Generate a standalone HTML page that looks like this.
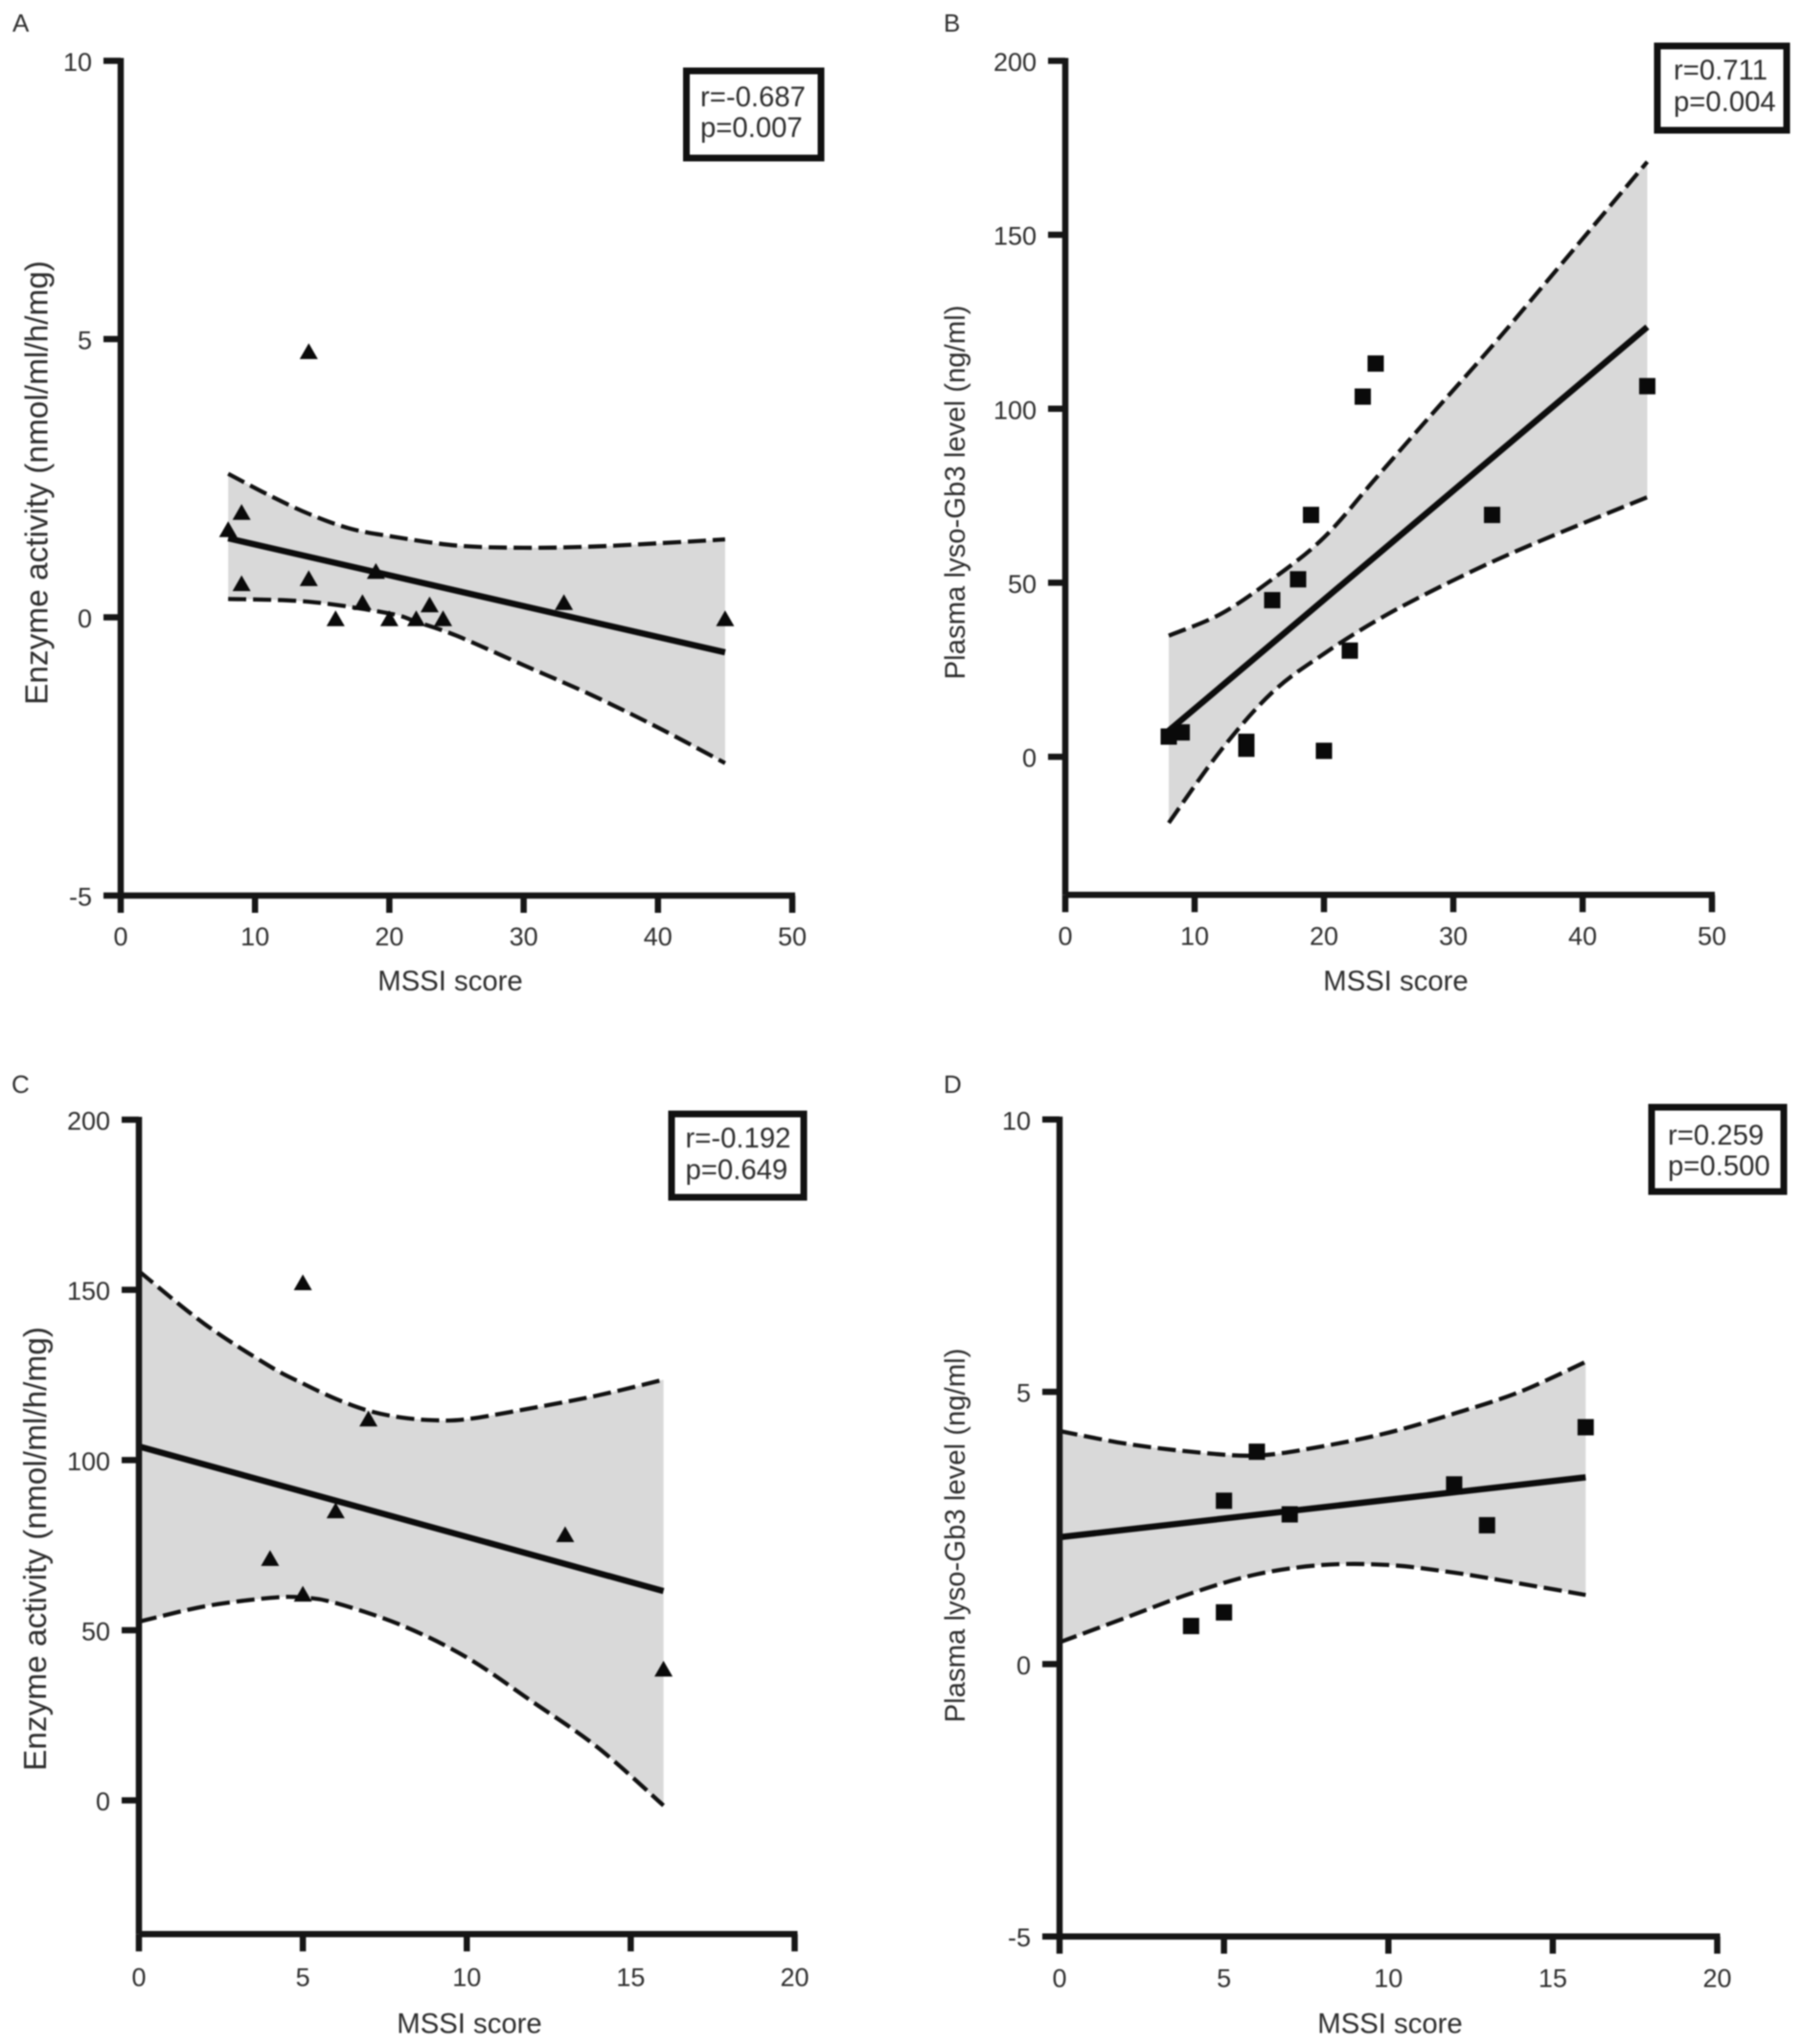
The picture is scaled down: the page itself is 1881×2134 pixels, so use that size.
<!DOCTYPE html>
<html lang="en">
<head>
<meta charset="utf-8">
<title>MSSI score correlations</title>
<style>
html,body{margin:0;padding:0;background:#fff;}
svg{display:block;filter:blur(0.8px);}
text{font-family:"Liberation Sans",Arial,sans-serif;fill:#2e2e2e;}
.tick{font-size:27px;}
.xt{font-size:29.3px;text-anchor:middle;}
.yt-a{font-size:33.4px;text-anchor:middle;}
.yt-b{font-size:29.3px;text-anchor:middle;}
.stat{font-size:29.3px;}
.letter{font-size:26px;}
.box{fill:#fff;stroke:#111;stroke-width:7;}
</style>
</head>
<body>
<svg id="figure" xmlns="http://www.w3.org/2000/svg" width="1881" height="2134" viewBox="0 0 1881 2134">
  <rect x="0" y="0" width="1881" height="2134" fill="#fff"/>

  <g id="panel-a"></g>
  <g id="panel-b"></g>
  <g id="panel-c"></g>
  <g id="panel-d"></g>

  <text class="letter" x="13" y="33">A</text>
  <text class="letter" x="985" y="33">B</text>
  <text class="letter" x="12" y="1141">C</text>
  <text class="letter" x="985" y="1141">D</text>

  <text class="xt" x="470" y="1034">MSSI score</text>
  <text class="xt" x="1457" y="1034">MSSI score</text>
  <text class="xt" x="490" y="2122.5">MSSI score</text>
  <text class="xt" x="1451" y="2122.5">MSSI score</text>

  <text class="yt-a" transform="translate(49.5,504) rotate(-90)">Enzyme activity (nmol/ml/h/mg)</text>
  <text class="yt-b" transform="translate(1007,514) rotate(-90)">Plasma lyso-Gb3 level (ng/ml)</text>
  <text class="yt-a" transform="translate(48,1617) rotate(-90)">Enzyme activity (nmol/ml/h/mg)</text>
  <text class="yt-b" transform="translate(1007,1603) rotate(-90)">Plasma lyso-Gb3 level (ng/ml)</text>

  <g>
    <rect class="box" x="716.5" y="74" width="140.5" height="91"/>
    <text class="stat" x="731" y="111">r=-0.687</text>
    <text class="stat" x="731" y="143">p=0.007</text>
  </g>
  <g>
    <rect class="box" x="1730" y="48" width="135" height="88"/>
    <text class="stat" x="1747" y="83">r=0.711</text>
    <text class="stat" x="1747" y="116">p=0.004</text>
  </g>
  <g>
    <rect class="box" x="701" y="1163" width="138" height="87"/>
    <text class="stat" x="715.5" y="1198">r=-0.192</text>
    <text class="stat" x="715.5" y="1231">p=0.649</text>
  </g>
  <g>
    <rect class="box" x="1724" y="1156" width="138" height="88"/>
    <text class="stat" x="1741" y="1195">r=0.259</text>
    <text class="stat" x="1741" y="1227">p=0.500</text>
  </g>
</svg>

<script>
// Panel A data
const aPointX = [8, 9, 9, 14, 14, 16, 18, 19, 20, 22, 23, 24, 33, 45];
const aPointY = [1.57, 1.88, 0.6, 4.77, 0.69, -0.03, 0.26, 0.82, -0.03, -0.03, 0.22, -0.03, 0.26, -0.03];
const aFitX = [8, 45];
const aFitY = [1.42, -0.63];
const aUpperX = [8, 11, 14, 17, 20, 25, 30, 35, 40, 45];
const aUpperY = [2.58, 2.2, 1.86, 1.6, 1.46, 1.29, 1.25, 1.27, 1.33, 1.4];
const aLowerX = [8, 14, 20, 22, 25, 30, 35, 40, 45];
const aLowerY = [0.33, 0.28, 0.07, -0.08, -0.33, -0.86, -1.39, -1.98, -2.62];
const aXTicks = [0, 10, 20, 30, 40, 50];
const aYTicks = [-5, 0, 5, 10];

// Panel B data
const bPointX = [8, 9, 14, 14, 16, 18, 19, 20, 22, 23, 24, 33, 45];
const bPointY = [5.8, 7, 4.3, 2.3, 45, 51, 69.5, 1.7, 30.5, 103.5, 113, 69.5, 106.5];
const bFitX = [8, 45];
const bFitY = [7.5, 123.5];
const bUpperX = [8, 12, 16, 20, 24, 28, 33, 38, 45];
const bUpperY = [34.8, 41, 51, 63, 80, 97, 118, 140, 171];
const bLowerX = [8, 12, 16, 20, 24, 28, 33, 38, 45];
const bLowerY = [-19, 1.7, 18.5, 29.6, 39, 47, 56, 64, 74.6];
const bXTicks = [0, 10, 20, 30, 40, 50];
const bYTicks = [0, 50, 100, 150, 200];

// Panel C data
const cPointX = [4, 5, 5, 6, 7, 13, 16];
const cPointY = [71, 152, 60.5, 85, 112, 78, 38.5];
const cFitX = [0, 16];
const cFitY = [104, 61.5];
const cUpperX = [0, 2, 4, 5, 6, 7, 8, 9, 10, 12, 14, 16];
const cUpperY = [155.5, 140, 127.5, 122.5, 118, 114.5, 112.5, 111.7, 112, 115.3, 119, 123.6];
const cLowerX = [0, 2, 4, 5, 6, 8, 10, 12, 14, 16];
const cLowerY = [52.5, 57, 59.5, 59.6, 58, 51.5, 42, 29, 15.5, -1.5];
const cXTicks = [0, 5, 10, 15, 20];
const cYTicks = [0, 50, 100, 150, 200];

// Panel D data
const dPointX = [4, 5, 5, 6, 7, 12, 13, 16];
const dPointY = [0.7, 0.95, 3.0, 3.9, 2.75, 3.3, 2.55, 4.35];
const dFitX = [0, 16];
const dFitY = [2.33, 3.43];
const dUpperX = [0, 2, 4, 6, 8, 10, 12, 14, 16];
const dUpperY = [4.28, 4.05, 3.9, 3.83, 4.0, 4.25, 4.6, 5.0, 5.55];
const dLowerX = [0, 2, 4, 6, 8, 10, 12, 14, 16];
const dLowerY = [0.4, 0.85, 1.3, 1.65, 1.82, 1.82, 1.68, 1.48, 1.27];
const dXTicks = [0, 5, 10, 15, 20];
const dYTicks = [-5, 0, 5, 10];

const NS = 'http://www.w3.org/2000/svg';

function makeEl(parent, tag, attrs) {
  const el = document.createElementNS(NS, tag);
  for (const k in attrs) el.setAttribute(k, attrs[k]);
  parent.appendChild(el);
  return el;
}

function smoothSegment(pts) {
  let d = '';
  for (let i = 0; i < pts.length - 1; i++) {
    const p0 = pts[Math.max(i - 1, 0)];
    const p1 = pts[i];
    const p2 = pts[i + 1];
    const p3 = pts[Math.min(i + 2, pts.length - 1)];
    const c1x = p1[0] + (p2[0] - p0[0]) / 6;
    const c1y = p1[1] + (p2[1] - p0[1]) / 6;
    const c2x = p2[0] - (p3[0] - p1[0]) / 6;
    const c2y = p2[1] - (p3[1] - p1[1]) / 6;
    d += ' C' + c1x.toFixed(2) + ' ' + c1y.toFixed(2) + ' ' + c2x.toFixed(2) + ' ' + c2y.toFixed(2) + ' ' + p2[0].toFixed(2) + ' ' + p2[1].toFixed(2);
  }
  return d;
}

function drawPanel(id, marker, d, box) {
  const g = document.getElementById('panel-' + id);
  const sx = v => box.left + (v - box.xMin) / (box.xMax - box.xMin) * (box.right - box.left);
  const sy = v => box.bottom - (v - box.yMin) / (box.yMax - box.yMin) * (box.bottom - box.top);

  const up = d.upperX.map((x, i) => [sx(x), sy(d.upperY[i])]);
  const lo = d.lowerX.map((x, i) => [sx(x), sy(d.lowerY[i])]);
  const loRev = lo.slice().reverse();

  const bandPath = 'M' + up[0][0] + ' ' + up[0][1] + smoothSegment(up) +
    ' L' + loRev[0][0] + ' ' + loRev[0][1] + smoothSegment(loRev) + ' Z';
  const band = makeEl(g, 'path', {d: bandPath, fill: '#d9d9d9', stroke: 'none'});
  
  

  const upperLine = makeEl(g, 'path', {d: 'M' + up[0][0] + ' ' + up[0][1] + smoothSegment(up), fill: 'none', stroke: '#111', 'stroke-width': 4.3, 'stroke-dasharray': '19 7'});
  
  

  const lowerLine = makeEl(g, 'path', {d: 'M' + lo[0][0] + ' ' + lo[0][1] + smoothSegment(lo), fill: 'none', stroke: '#111', 'stroke-width': 4.3, 'stroke-dasharray': '19 7'});
  
  

  const fit = makeEl(g, 'line', {x1: sx(d.fitX[0]), y1: sy(d.fitY[0]), x2: sx(d.fitX[1]), y2: sy(d.fitY[1]), stroke: '#0c0c0c', 'stroke-width': 6.5});
  
  

  const axisStyle = {stroke: '#161616', 'stroke-width': 6.5, 'stroke-linecap': 'butt'};

  const yAxis = makeEl(g, 'line', Object.assign({x1: box.left, x2: box.left, y1: sy(box.yMax) - 3, y2: box.bottom}, axisStyle));
  
  

  const xAxis = makeEl(g, 'line', Object.assign({x1: box.left, x2: box.right + 3, y1: box.bottom, y2: box.bottom}, axisStyle));
  
  

  d.xTicks.forEach(v => {
    const t = makeEl(g, 'line', Object.assign({x1: sx(v), x2: sx(v), y1: box.bottom, y2: box.bottom + 18}, axisStyle));
    
    
    const lab = makeEl(g, 'text', {class: 'tick', x: sx(v), y: box.bottom + box.xLabelGap, 'text-anchor': 'middle'});
    
    
    lab.textContent = String(v);
  });

  d.yTicks.forEach(v => {
    const t = makeEl(g, 'line', Object.assign({x1: box.left - 18, x2: box.left, y1: sy(v), y2: sy(v)}, axisStyle));
    
    
    const lab = makeEl(g, 'text', {class: 'tick', x: box.left - 30, y: sy(v) + 10.5, 'text-anchor': 'end'});
    
    
    lab.textContent = String(v);
  });

  d.pointX.forEach((x, i) => {
    const cx = sx(x);
    const cy = sy(d.pointY[i]);
    let m;
    if (marker === 'triangle') {
      m = makeEl(g, 'polygon', {points: (cx - 9.5) + ',' + (cy + 7.5) + ' ' + (cx + 9.5) + ',' + (cy + 7.5) + ' ' + cx + ',' + (cy - 9), fill: '#0a0a0a'});
    } else {
      m = makeEl(g, 'rect', {x: cx - 8.5, y: cy - 8.5, width: 17, height: 17, fill: '#0a0a0a'});
    }
    
    
  });
}

drawPanel('a', 'triangle',
  {pointX: aPointX, pointY: aPointY, fitX: aFitX, fitY: aFitY, upperX: aUpperX, upperY: aUpperY, lowerX: aLowerX, lowerY: aLowerY, xTicks: aXTicks, yTicks: aYTicks},
  {left: 126, right: 827, top: 63.5, bottom: 935, xMin: 0, xMax: 50, yMin: -5, yMax: 10, xLabelGap: 52});

drawPanel('b', 'square',
  {pointX: bPointX, pointY: bPointY, fitX: bFitX, fitY: bFitY, upperX: bUpperX, upperY: bUpperY, lowerX: bLowerX, lowerY: bLowerY, xTicks: bXTicks, yTicks: bYTicks},
  {left: 1112, right: 1787, top: 63.5, bottom: 934.3, xMin: 0, xMax: 50, yMin: -39.7, yMax: 200, xLabelGap: 52});

drawPanel('c', 'triangle',
  {pointX: cPointX, pointY: cPointY, fitX: cFitX, fitY: cFitY, upperX: cUpperX, upperY: cUpperY, lowerX: cLowerX, lowerY: cLowerY, xTicks: cXTicks, yTicks: cYTicks},
  {left: 145, right: 829.5, top: 1169, bottom: 2019.3, xMin: 0, xMax: 20, yMin: -39.3, yMax: 200, xLabelGap: 54});

drawPanel('d', 'square',
  {pointX: dPointX, pointY: dPointY, fitX: dFitX, fitY: dFitY, upperX: dUpperX, upperY: dUpperY, lowerX: dLowerX, lowerY: dLowerY, xTicks: dXTicks, yTicks: dYTicks},
  {left: 1106, right: 1792.5, top: 1168.8, bottom: 2021.7, xMin: 0, xMax: 20, yMin: -5, yMax: 10, xLabelGap: 53});
</script>
</body>
</html>
